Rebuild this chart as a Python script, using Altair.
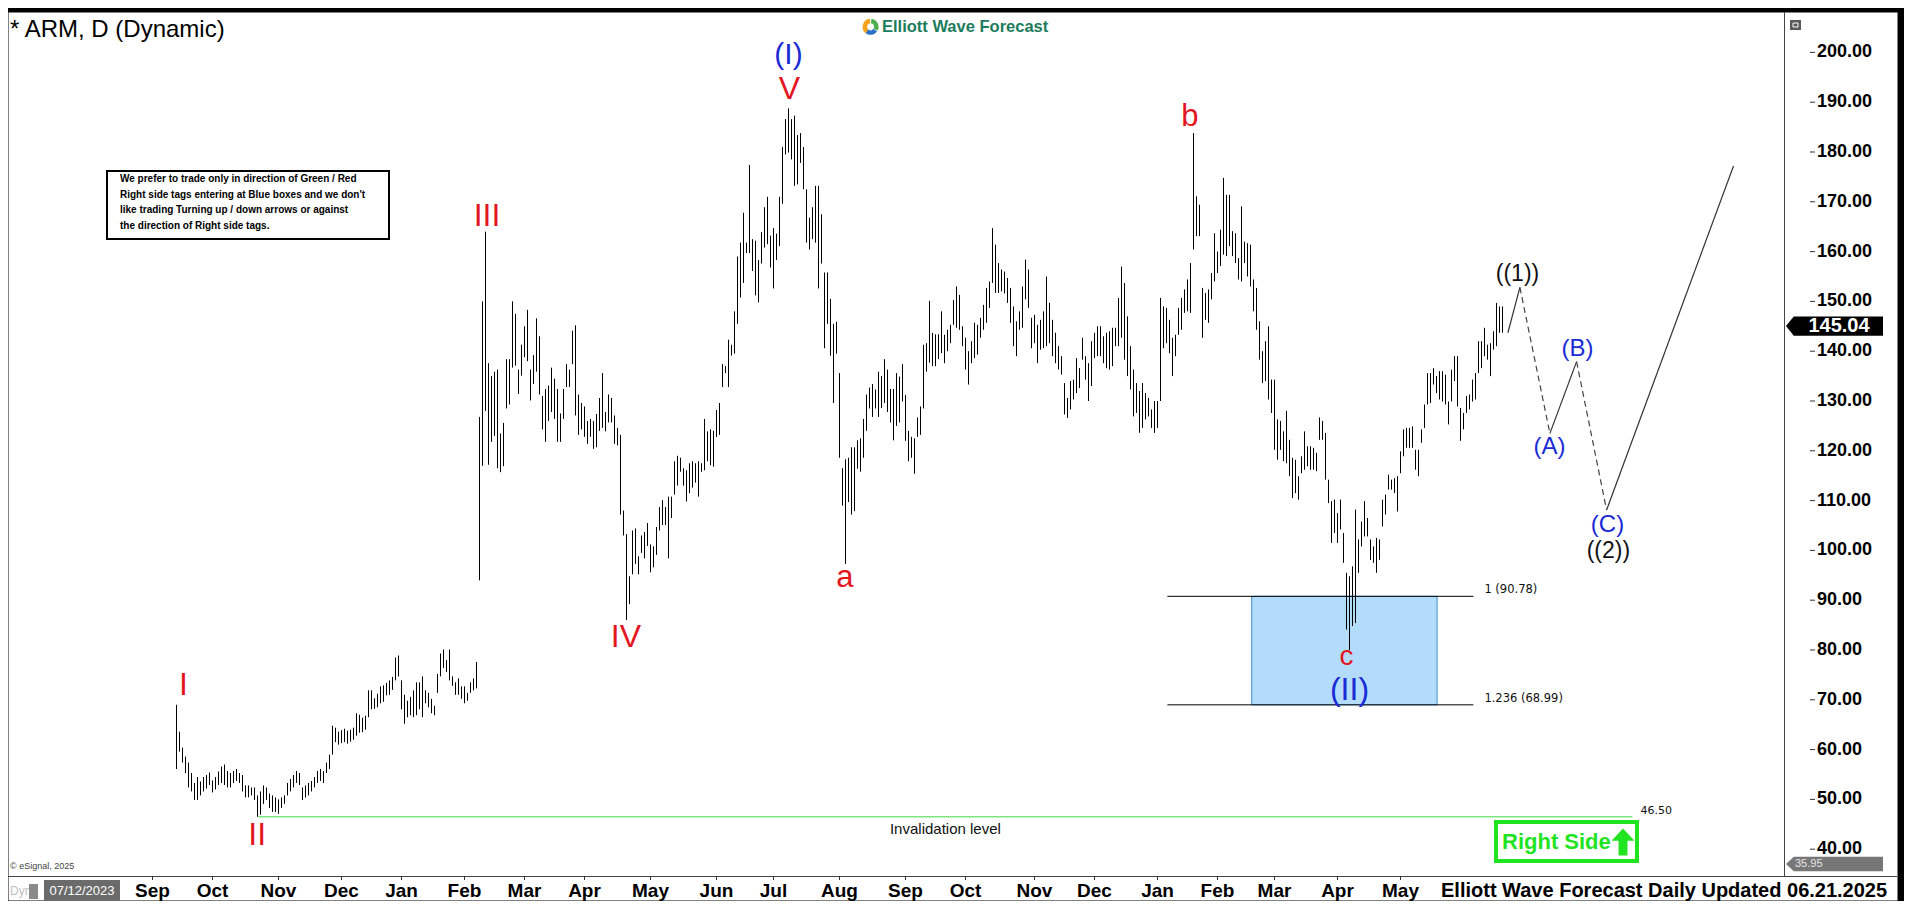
import altair as alt
import numpy as np
import pandas as pd

# ---------------- daily high / low ----------------
high_2023 = [
    69.0, 63.6, 60.4, 58.6, 57.4, 55.3, 53.3, 54.5, 53.6, 54.5, 54.9, 55.4,
    53.8, 54.5, 55.6, 56.6, 57.0, 55.7, 55.3, 55.7, 56.1, 55.3, 54.9, 52.8, 52.8, 52.4, 52.4, 50.8, 51.6, 52.8, 52.4, 51.2, 50.8, 50.4,
    50.0, 50.4, 50.8, 53.3, 54.1, 54.9, 55.7, 55.3, 52.4, 52.8, 53.3, 53.7, 54.5, 55.7, 56.1, 55.7, 57.4, 59.0, 64.8, 64.4, 63.6,
    63.9, 64.2, 63.8, 64.0, 64.4, 67.3, 67.0, 66.4, 66.8, 71.9, 71.9, 70.3, 71.2, 72.7, 72.9, 73.4, 73.9, 74.6, 78.5, 78.9,
]
low_2023 = [
    56.1, 59.6, 57.4, 55.3, 52.4, 51.6, 49.9, 49.9, 50.8, 51.6, 52.2, 52.9,
    51.4, 52.0, 52.9, 53.3, 52.9, 52.4, 52.4, 53.3, 53.7, 53.3, 51.6, 50.4, 50.4, 50.8, 49.9, 46.5, 46.9, 49.1, 49.9, 48.3, 47.5, 47.5,
    47.1, 48.3, 49.1, 50.8, 51.6, 52.4, 53.3, 52.9, 49.9, 50.4, 50.8, 51.6, 52.4, 53.3, 53.7, 53.3, 55.3, 56.1, 59.0, 61.5, 61.0,
    61.3, 61.5, 61.2, 61.6, 62.0, 62.8, 63.4, 63.5, 64.0, 66.5, 68.1, 68.2, 68.5, 69.3, 69.6, 70.9, 71.0, 72.0, 73.9, 74.7,
]
high_2024 = [
    73.9, 71.0, 69.8, 70.6, 71.9, 73.5, 73.5, 74.7, 71.9, 71.4, 70.2, 68.8, 75.2, 79.3, 80.1, 78.0, 80.1, 74.7, 73.5, 74.3, 72.7,
    72.7, 71.4, 73.5, 74.3, 77.6, 126.8, 150.0, 164.0, 137.6, 135.0, 135.9, 136.3, 123.5, 125.6, 138.4, 138.4, 150.0, 147.5, 136.3, 141.3,
    145.0, 148.3, 136.3, 139.2, 146.6, 143.0, 131.0, 132.4, 133.1, 136.7, 134.5, 132.4, 127.5, 132.4, 137.4, 136.3, 144.1, 145.2, 131.3, 129.6,
    128.9, 126.0, 126.4, 126.0, 127.4, 130.6, 135.6, 127.8, 131.3, 130.6, 127.1, 124.6, 123.2, 108.0, 103.3, 94.8, 104.0, 104.4, 98.8, 103.0, 103.7, 105.5,
    101.2, 100.8, 104.7, 108.7, 110.1, 108.7, 110.8, 110.8, 117.9, 119.0, 118.6, 116.5, 116.1, 117.5, 117.9, 117.5, 117.9, 117.5, 126.4, 123.9, 124.3, 124.0,
    128.2, 129.6, 137.4, 137.0, 142.3, 141.3, 148.0, 159.0, 161.8, 167.8, 161.8, 177.4, 162.5, 162.2, 158.3, 163.9, 168.9, 171.0, 163.2,
    164.7, 163.6, 171.0, 181.0, 186.6, 188.75, 186.6, 187.3, 183.4, 183.8, 181.0, 172.5, 166.8, 168.9, 173.2, 173.2, 167.5, 155.8, 155.8, 150.5, 145.5, 145.9,
    135.6, 116.5, 118.3, 118.6, 120.7, 120.7, 122.1, 122.5, 126.4, 131.3, 132.7, 133.4, 132.3, 135.9, 135.0, 138.4, 136.3, 132.4, 132.4, 135.6, 134.9, 137.4,
    131.2, 124.0, 122.8, 122.5, 126.7, 128.9, 141.3, 141.6, 150.1, 143.7, 143.4, 143.4, 148.0, 143.3, 144.3, 145.3, 150.3, 153.0, 151.3, 145.0,
    142.7, 140.0, 142.0, 145.7, 145.3, 146.7, 149.3, 152.7, 154.0, 164.7, 161.4, 157.7, 156.4, 156.0, 154.7, 152.7, 149.0, 146.0, 148.0, 153.0, 158.4, 156.4, 146.7,
    147.3, 145.3, 146.3, 148.0, 155.0, 149.7, 146.3, 143.7, 141.0, 139.0, 133.6, 130.6, 134.0, 134.3, 138.6, 136.6, 142.7, 139.0, 137.6, 142.0,
    143.7, 145.0, 145.0, 143.0, 143.7, 144.0, 144.7, 144.7, 150.7, 157.0, 153.7, 147.0, 141.0, 136.3, 133.6, 132.0, 133.6, 131.6, 130.6, 128.3, 130.0,
]
low_2024 = [
    68.1, 65.2, 66.5, 66.9, 66.5, 66.9, 68.1, 66.5, 69.3, 68.5, 67.3, 66.9, 71.4, 74.7, 76.4, 75.6, 73.9, 72.8, 71.0, 71.0, 70.2,
    69.3, 69.8, 71.4, 71.9, 72.3, 94.0, 117.0, 128.0, 117.2, 121.8, 123.0, 116.5, 115.7, 116.9, 128.5, 129.3, 136.7, 137.1, 131.4, 135.1,
    138.8, 138.0, 130.1, 133.4, 135.9, 131.3, 124.3, 121.8, 126.0, 127.8, 126.4, 121.8, 121.8, 126.4, 132.8, 132.8, 137.4, 127.1, 123.2, 124.3,
    122.8, 121.4, 122.8, 120.4, 120.7, 124.0, 124.6, 123.9, 125.7, 125.7, 121.4, 121.1, 107.2, 103.0, 86.0, 89.2, 95.2, 97.3, 95.2, 99.5, 98.4, 100.9,
    95.6, 96.6, 99.1, 104.0, 105.1, 105.1, 98.4, 106.5, 111.2, 113.0, 115.8, 113.0, 109.8, 111.5, 112.6, 113.6, 110.8, 115.8, 116.1, 117.9, 117.1, 116.8,
    122.8, 123.2, 132.8, 135.6, 132.8, 139.1, 139.5, 145.5, 150.8, 153.7, 159.7, 159.7, 156.1, 151.2, 149.8, 157.6, 160.8, 161.5, 156.8,
    152.6, 158.3, 161.1, 169.6, 179.5, 179.9, 178.5, 173.2, 173.5, 177.8, 172.5, 161.8, 160.4, 162.5, 161.8, 152.6, 157.6, 140.6, 145.5, 139.1, 129.6, 139.5,
    118.6, 109.0, 97.3, 109.7, 107.2, 107.9, 116.4, 115.8, 118.6, 124.0, 128.5, 126.8, 128.5, 126.8, 128.6, 129.6, 127.8, 125.7, 122.1, 125.0, 125.7, 129.9,
    122.0, 117.9, 118.6, 115.4, 122.8, 123.2, 128.5, 135.9, 137.7, 137.0, 137.0, 138.4, 139.6, 137.6, 140.0, 141.6, 145.3, 144.7, 144.3, 141.0,
    136.3, 133.3, 137.6, 138.6, 139.3, 142.7, 144.3, 145.7, 148.7, 153.7, 151.7, 151.7, 152.0, 151.6, 149.7, 145.7, 141.0, 139.0, 144.3, 144.7, 150.4, 148.7, 140.6,
    141.6, 137.6, 140.3, 140.6, 141.0, 141.6, 139.0, 137.6, 136.3, 135.3, 127.3, 126.6, 128.3, 130.3, 131.6, 132.6, 138.3, 134.3, 130.0, 133.0,
    138.6, 139.0, 139.0, 137.6, 136.6, 136.3, 137.0, 141.0, 141.0, 142.7, 138.3, 135.0, 132.3, 126.9, 127.6, 123.6, 124.6, 126.3, 126.9, 124.6, 123.6,
]
high_2025 = [
    130.0, 150.7, 149.0, 148.7, 146.3, 142.7, 143.3, 148.7, 150.7, 152.4, 154.4, 157.7, 183.8, 171.1, 169.4, 152.7, 151.7, 152.4, 155.7, 163.7,
    160.0, 164.4, 174.8, 171.4, 171.4, 164.1, 163.7, 158.7, 169.1, 162.0, 161.7, 161.4, 154.4, 152.7, 146.0, 140.0, 142.0, 145.0, 134.3,
    134.3, 126.3, 126.0, 123.9, 128.0, 122.2, 118.6, 118.2, 114.9, 118.9, 123.9, 120.9, 120.9, 120.6, 119.6, 126.7, 126.0, 123.6, 114.2, 109.9, 110.2,
    107.5, 110.2, 103.5, 95.5, 94.8, 96.8, 108.2, 102.2, 105.8, 109.9, 106.5, 102.2, 100.8, 102.5, 102.2, 110.2, 111.2, 115.2, 114.2, 114.5, 114.9,
    119.9, 124.3, 124.6, 124.6, 124.9, 120.2, 120.2, 124.3, 129.3, 135.6, 135.6, 136.6, 135.0, 136.0, 136.0, 135.3, 129.9, 136.3, 139.0, 139.0, 128.6,
    127.6, 131.0, 131.3, 134.3, 135.6, 142.0, 142.0, 144.7, 141.3, 141.6, 144.0, 149.7, 149.0, 149.0,
]
low_2025 = [
    124.6, 130.0, 140.6, 141.6, 139.6, 135.0, 139.0, 143.3, 144.3, 147.7, 148.0, 147.7, 160.4, 163.1, 163.1, 142.7, 146.3, 145.7, 150.4, 154.0,
    155.7, 157.1, 159.4, 159.1, 161.1, 159.1, 157.7, 154.4, 154.0, 157.7, 155.0, 153.0, 148.0, 144.3, 138.3, 133.6, 134.0, 130.3, 127.6,
    120.2, 118.2, 120.2, 117.9, 117.5, 114.9, 110.5, 111.5, 110.2, 115.5, 116.2, 116.9, 116.2, 116.2, 115.9, 122.2, 122.2, 114.2, 109.5, 101.5, 103.5,
    101.5, 104.2, 97.5, 84.1, 80.0, 84.8, 85.4, 95.5, 100.8, 102.8, 102.8, 98.1, 97.5, 95.5, 98.1, 104.8, 107.2, 112.2, 112.2, 111.5, 107.8,
    115.5, 118.9, 120.6, 120.6, 120.6, 116.2, 114.9, 121.6, 124.6, 129.3, 129.6, 133.3, 131.6, 130.3, 129.9, 129.3, 125.3, 129.9, 134.0, 128.9, 122.0,
    124.3, 127.6, 128.3, 129.9, 130.3, 135.6, 136.6, 139.0, 138.3, 135.0, 140.3, 141.0, 143.7, 143.7,
]
last_close = 145.04
low_tag = 35.95
price_ticks = list(range(40, 201, 10))

# wave labels: text, bar index, price, colour, font size
wave_text = ["I", "II", "III", "IV", "V", "(I)", "a", "b", "c", "(II)", "((1))", "(A)", "(B)", "(C)", "((2))"]
wave_t = [2.3, 26.9, 103.5, 149.8, 204.3, 204.0, 222.8, 337.8, 390.0, 391.0, 447.0, 457.7, 467.0, 477.0, 477.3]
wave_p = [73.0, 42.8, 167.1, 82.7, 192.6, 199.5, 94.4, 187.1, 78.6, 72.0, 155.5, 120.7, 140.4, 105.0, 99.9]
RED, BLUE, BLK = "#e3161f", "#1b2bd6", "#111111"
wave_col = [RED, RED, RED, RED, RED, BLUE, RED, RED, RED, BLUE, BLK, BLUE, BLUE, BLUE, BLK]
wave_fs = [32, 32, 32, 32, 32, 30, 31, 31, 28, 32, 23, 24, 24, 24, 23]

# projected path (bar index, price)
proj_t = [443.8, 447.8, 457.8, 466.7, 476.7, 519.0]
proj_p = [143.7, 152.8, 123.5, 137.9, 108.1, 177.2]

# levels
invalid_level = 46.50
invalid_span = [27.3, 485.3]
fib_levels = [90.78, 68.99]
fib_names = ["1 (90.78)", "1.236 (68.99)"]
fib_span = [330.3, 432.3]
box_span = [358.4, 420.2]

note_lines = [
    "We prefer to trade only in direction of Green / Red",
    "Right side tags entering at Blue boxes and we don't",
    "like trading Turning up / down arrows or against",
    "the direction of Right side tags.",
]

# ---------------- trading calendar ----------------
holidays = ["2023-09-04", "2023-11-23", "2023-12-25", "2024-01-01", "2024-01-15", "2024-02-19",
            "2024-03-29", "2024-05-27", "2024-06-19", "2024-07-04", "2024-09-02", "2024-11-28",
            "2024-12-25", "2025-01-01", "2025-01-09", "2025-01-20", "2025-02-17", "2025-04-18",
            "2025-05-26", "2025-06-19"]
days = pd.bdate_range("2023-09-01", "2025-06-20", freq="C", holidays=holidays)
first = days.get_loc(pd.Timestamp("2023-09-14"))
idx = np.arange(len(days)) - first

high = high_2023 + high_2024 + high_2025
low = low_2023 + low_2024 + low_2025
n = len(days) - first
assert len(high) == n and len(low) == n, (len(high), len(low), n)
bars = pd.DataFrame({"t": idx[first:], "high": high, "low": low})

cal = pd.Series(idx, index=days)
starts = cal.groupby(days.to_period("M")).first()
starts = starts[starts.index <= pd.Period("2025-05", "M")]
months = pd.DataFrame({"t": [int(v) for v in starts.tolist()],
                       "m": [p.strftime("%b") for p in starts.index]})

# ---------------- scales / layout ----------------
W, H = 1889, 888
X0 = -56.1667
X1 = X0 + W / 3.0
Y0, Y1 = 29.8, 208.11
AXIS_X = 1776          # px of price-axis line
AXIS_Y = 864           # px of time-axis line
xs = alt.Scale(domain=[X0, X1], nice=False, zero=False)
ys = alt.Scale(domain=[Y0, Y1], nice=False, zero=False)
SANS = "Liberation Sans"

X = lambda f: alt.X(f, scale=xs, axis=None)
Y = lambda f: alt.Y(f, scale=ys, axis=None)


def txt(s, x, y, size, color="black", weight="normal", font=SANS, align="left", baseline="middle"):
    return (alt.Chart(pd.DataFrame({"s": [s]}))
            .mark_text(fontSize=size, color=color, fontWeight=weight, font=font, align=align, baseline=baseline)
            .encode(x=alt.value(x), y=alt.value(y), text="s:N"))


def box_px(x0, x1, y0, y1, **kw):
    return (alt.Chart(pd.DataFrame({"a": [0]})).mark_rect(**kw)
            .encode(x=alt.value(x0), x2=alt.value(x1), y=alt.value(y0), y2=alt.value(y1)))


layers = []

# fib box and lines
box = pd.DataFrame({"t0": [box_span[0]], "t1": [box_span[1]], "p0": [fib_levels[1]], "p1": [fib_levels[0]]})
layers.append(alt.Chart(box).mark_rect(fill="#b3dcfa", stroke="#3f8fcc", strokeWidth=1)
              .encode(x=X("t0:Q"), x2="t1:Q", y=Y("p0:Q"), y2="p1:Q"))
fib = pd.DataFrame({"t0": [fib_span[0]] * 2, "t1": [fib_span[1]] * 2, "p": fib_levels, "name": fib_names})
layers.append(alt.Chart(fib).mark_rule(color="black", strokeWidth=1)
              .encode(x=X("t0:Q"), x2="t1:Q", y=Y("p:Q")))
layers.append(alt.Chart(fib).mark_text(font="DejaVu Sans", fontSize=11.5, align="left", baseline="bottom", dx=11, dy=-1, color="#111")
              .encode(x=X("t1:Q"), y=Y("p:Q"), text="name:N"))

# invalidation level
inv = pd.DataFrame({"t0": [invalid_span[0]], "t1": [invalid_span[1]], "p": [invalid_level],
                    "lab": [f"{invalid_level:.2f}"], "tm": [(invalid_span[0] + invalid_span[1]) / 2]})
layers.append(alt.Chart(inv).mark_rule(color="#3fd93f", strokeWidth=1)
              .encode(x=X("t0:Q"), x2="t1:Q", y=Y("p:Q")))
layers.append(alt.Chart(inv).mark_text(font="DejaVu Sans", fontSize=11, align="left", baseline="bottom", dx=8, dy=-1, color="#111")
              .encode(x=X("t1:Q"), y=Y("p:Q"), text="lab:N"))
layers.append(alt.Chart(inv).mark_text(font=SANS, fontSize=15, align="center", baseline="top", dy=5, color="#111")
              .encode(x=X("tm:Q"), y=Y("p:Q"), text=alt.value("Invalidation level")))

# price bars (high-low)
layers.append(alt.Chart(bars).mark_rule(color="black", strokeWidth=1)
              .encode(x=X("t:Q"), y=Y("low:Q"), y2="high:Q"))

# projected path
segs = []
for k in range(len(proj_t) - 1):
    for j in (k, k + 1):
        segs.append({"seg": k, "t": proj_t[j], "p": proj_p[j], "dashed": k % 2 == 1})
segs = pd.DataFrame(segs)
layers.append(alt.Chart(segs[~segs.dashed]).mark_line(color="#333333", strokeWidth=1.2)
              .encode(x=X("t:Q"), y=Y("p:Q"), detail="seg:N"))
layers.append(alt.Chart(segs[segs.dashed]).mark_line(color="#444444", strokeWidth=1.2, strokeDash=[6, 4])
              .encode(x=X("t:Q"), y=Y("p:Q"), detail="seg:N"))

# wave labels
waves = pd.DataFrame({"label": wave_text, "t": wave_t, "p": wave_p, "col": wave_col, "fs": wave_fs})
layers.append(alt.Chart(waves).mark_text(font=SANS, align="center", baseline="middle")
              .encode(x=X("t:Q"), y=Y("p:Q"), text="label:N",
                      color=alt.Color("col:N", scale=None), size=alt.Size("fs:Q", scale=None)))

# ---------------- axes drawn from the scales ----------------
layers.append(alt.Chart(pd.DataFrame({"a": [0]})).mark_rule(color="#444444", strokeWidth=1)
              .encode(x=alt.value(AXIS_X + 0.5), y=alt.value(0), y2=alt.value(AXIS_Y)))
layers.append(alt.Chart(pd.DataFrame({"a": [0]})).mark_rule(color="#444444", strokeWidth=1)
              .encode(x=alt.value(0), x2=alt.value(W), y=alt.value(AXIS_Y + 0.5)))
pt = pd.DataFrame({"p": price_ticks, "lab": [f"{v:.2f}" for v in price_ticks]})
layers.append(alt.Chart(pt).mark_rule(color="#333333", strokeWidth=1)
              .encode(x=alt.value(1802), x2=alt.value(1807), y=Y("p:Q")))
layers.append(alt.Chart(pt).mark_text(font=SANS, fontSize=18, fontWeight="bold", color="black", align="left", baseline="middle")
              .encode(x=alt.value(1809), y=Y("p:Q"), text="lab:N"))
layers.append(alt.Chart(months).mark_rule(color="#333333", strokeWidth=1)
              .encode(x=X("t:Q"), y=alt.value(AXIS_Y), y2=alt.value(AXIS_Y + 4)))
layers.append(alt.Chart(months).mark_text(font=SANS, fontSize=19, fontWeight="bold", color="black", align="center", baseline="middle")
              .encode(x=X("t:Q"), y=alt.value(879), text="m:N"))

# last price tag
TAG = "M-1,0L-0.84,-0.2L1,-0.2L1,0.2L-0.84,0.2Z"
tag = pd.DataFrame({"p": [last_close], "lab": [f"{last_close:.2f}"]})
layers.append(alt.Chart(tag).mark_point(shape=TAG, size=97 * 97, filled=True, color="black", opacity=1)
              .encode(x=alt.value(1826.5), y=Y("p:Q")))
layers.append(alt.Chart(tag).mark_text(font=SANS, fontSize=20, fontWeight="bold", color="white", align="center", baseline="middle")
              .encode(x=alt.value(1831), y=Y("p:Q"), text="lab:N"))

# ---------------- chrome ----------------
layers.append(txt("* ARM, D (Dynamic)", 2, 17.5, 24))
logo = pd.DataFrame({"a0": [-2.5, 0.1, 2.2], "a1": [-0.1, 2.1, 3.8], "c": ["#f4a11d", "#4cae4c", "#2a6fc9"]})
layers.append(alt.Chart(logo).mark_arc(radius=8, radius2=3.5)
              .encode(theta=alt.Theta("a0:Q", scale=None), theta2="a1:Q", color=alt.Color("c:N", scale=None),
                      x=alt.value(862.6), y=alt.value(14.8)))
layers.append(txt("Elliott Wave Forecast", 874, 14.8, 16.5, color="#1c7c5c", weight="bold"))
layers.append(box_px(1782, 1793, 8, 18, fill="#5a5a5a"))
layers.append(box_px(1785, 1790, 11, 15, fill="#5a5a5a", stroke="white", strokeWidth=1))
# note box
layers.append(box_px(99, 381, 159, 227, fill="white", stroke="black", strokeWidth=2))
for k, line in enumerate(note_lines):
    layers.append(txt(line, 112, 167 + 15.5 * k, 10, weight="bold"))
# low tag
layers.append(alt.Chart(pd.DataFrame({"a": [0]})).mark_point(shape="M-1,0L-0.84,-0.15L1,-0.15L1,0.15L-0.84,0.15Z",
              size=97 * 97, filled=True, color="#777777", opacity=1).encode(x=alt.value(1826.5), y=alt.value(852)))
layers.append(txt(f"{low_tag:.2f}", 1787, 852, 11, color="#e6e6e6"))
# right side tag
layers.append(box_px(1488, 1629, 810, 849, fill="white", stroke="#1fe41f", strokeWidth=4))
layers.append(txt("Right Side", 1494, 830, 22, color="#1fe41f", weight="bold"))
layers.append(alt.Chart(pd.DataFrame({"a": [0]})).mark_point(
    shape="M0,-1L0.85,-0.1L0.33,-0.1L0.33,1L-0.33,1L-0.33,-0.1L-0.85,-0.1Z",
    size=27 * 27, filled=True, color="#1fe41f", opacity=1).encode(x=alt.value(1615), y=alt.value(830)))
# bottom strip
layers.append(txt("© eSignal, 2025", 2, 854, 9, color="#444444"))
layers.append(txt("Dyn", 2, 879, 12, color="#c0c0c0"))
layers.append(box_px(21, 30, 872, 887, fill="#8a8a8a"))
layers.append(box_px(36, 112, 868, 891, fill="#6b6b6b"))
layers.append(txt("07/12/2023", 74, 879, 13, color="white", align="center"))
layers.append(txt("Elliott Wave Forecast Daily Updated 06.21.2025", 1433, 879, 20, weight="bold"))

chart = (alt.layer(*layers)
         .properties(width=W, height=H, autosize=alt.AutoSizeParams(type="none"),
                     padding={"left": 0, "top": 4, "right": 7, "bottom": 1})
         .configure(background="black")
         .configure_view(fill="white", stroke="transparent"))

chart.save("out.html", embed_options={"renderer": "svg", "actions": False})
